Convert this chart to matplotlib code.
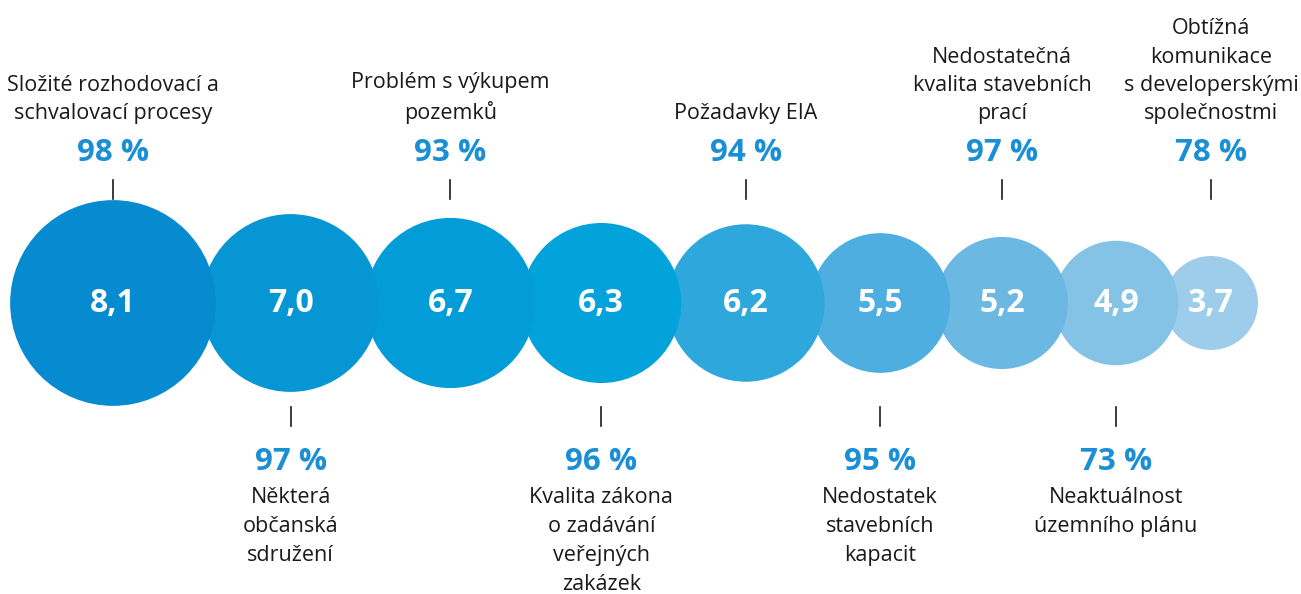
import numpy as np
import matplotlib.pyplot as plt
from matplotlib.patches import Circle

# data
values = [8.1, 7.0, 6.7, 6.3, 6.2, 5.5, 5.2, 4.9, 3.7]
value_labels = ["8,1", "7,0", "6,7", "6,3", "6,2", "5,5", "5,2", "4,9", "3,7"]
shares = [98, 97, 93, 96, 94, 95, 97, 73, 78]
labels = [
    "Složité rozhodovací a\nschvalovací procesy",
    "Některá\nobčanská\nsdružení",
    "Problém s výkupem\npozemků",
    "Kvalita zákona\no zadávání\nveřejných\nzakázek",
    "Požadavky EIA",
    "Nedostatek\nstavebních\nkapacit",
    "Nedostatečná\nkvalita stavebních\nprací",
    "Neaktuálnost\núzemního plánu",
    "Obtížná\nkomunikace\ns developerskými\nspolečnostmi",
]
colors = ["#078bd0", "#0696d4", "#029dd8", "#01a3da", "#2ea8dc",
          "#4eaee0", "#6bb8e2", "#84c3e6", "#9dcdeb"]

plt.rcParams['font.family'] = ['Open Sans', 'DejaVu Sans']

fig = plt.figure(figsize=(13.01, 5.94), dpi=100)
ax = fig.add_axes([0, 0, 1, 1])
ax.set_xlim(0, 1301)
ax.set_ylim(594, 0)
ax.set_aspect('equal')
ax.axis('off')

#geometry (pixels)
scale = 12.7
overlap = 14.2
cy = 303
radii = [v*scale for v in values]
xs = [113]
for i in range(1, len(radii)):
    xs.append(xs[-1] + radii[i-1] + radii[i] - overlap)

blue = "#1a8fd6"
dark = "#1a1a1a"
for i, (x, r) in enumerate(zip(xs, radii)):
    ax.add_patch(Circle((x, cy), r, color=colors[i], zorder=20-i, lw=0))
    ax.text(x, cy + 1, value_labels[i], color="white", fontsize=23, fontweight="bold",
            ha="center", va="center", zorder=30)
    if i % 2 == 0:
        ax.plot([x, x], [180, 199], color=dark, lw=1.2)
        ax.text(x, 153, f"{shares[i]} %", color=blue, fontsize=22.5, fontweight="bold",
                ha="center", va="center")
        ax.text(x, 124, labels[i], color=dark, fontsize=15.5, ha="center", va="bottom",
                linespacing=1.45)
    else:
        ax.plot([x, x], [407, 426], color=dark, lw=1.2)
        ax.text(x, 462, f"{shares[i]} %", color=blue, fontsize=22.5, fontweight="bold",
                ha="center", va="center")
        ax.text(x, 487, labels[i], color=dark, fontsize=15.5, ha="center", va="top",
                linespacing=1.5)

fig.savefig("out.png", dpi=100)
